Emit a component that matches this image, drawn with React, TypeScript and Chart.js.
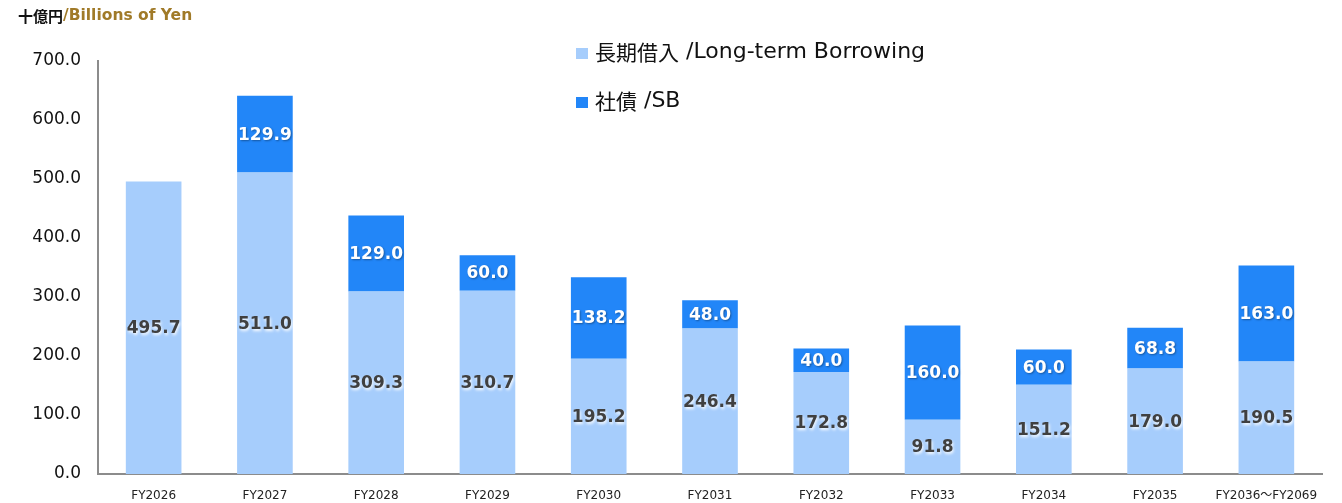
import React, { useEffect, useRef } from "react";
import { Chart, registerables } from "chart.js";

Chart.register(...registerables);

const categories = [
  "FY2026", "FY2027", "FY2028", "FY2029", "FY2030", "FY2031",
  "FY2032", "FY2033", "FY2034", "FY2035", "FY2036〜FY2069",
];
const longTermBorrowing = [495.7, 511.0, 309.3, 310.7, 195.2, 246.4, 172.8, 91.8, 151.2, 179.0, 190.5];
const sb = [null, 129.9, 129.0, 60.0, 138.2, 48.0, 40.0, 160.0, 60.0, 68.8, 163.0];
const yTicks = [0, 100, 200, 300, 400, 500, 600, 700];
const seriesNamesJa = ["長期借入", "社債"];
const seriesNamesEn = [" /Long-term Borrowing", " /SB"];
const unitJa = "十億円";
const unitEn = "/Billions of Yen";

const LIGHT = "#a6cdfc";
const DARK = "#2286f8";
const LABEL_FONT = "bold 17px 'DejaVu Sans', Verdana, sans-serif";

const overlayPlugin = {
  id: "overlay",
  afterDatasetsDraw(chart: any) {
    const ctx = chart.ctx;
    ctx.save();
    ctx.font = LABEL_FONT;
    ctx.textAlign = "center";
    ctx.textBaseline = "middle";
    chart.data.datasets.forEach((ds: any, di: number) => {
      const meta = chart.getDatasetMeta(di);
      meta.data.forEach((bar: any, i: number) => {
        const v = ds.data[i];
        if (v == null) return;
        const { x, y, base } = bar.getProps(["x", "y", "base"], true);
        const cy = (y + base) / 2;
        const txt = v.toFixed(1);
        if (di === 0) {
          ctx.shadowColor = "rgba(255,255,255,0.95)";
          ctx.shadowBlur = 3;
          ctx.shadowOffsetX = 1;
          ctx.shadowOffsetY = 2;
          ctx.fillStyle = "#404040";
        } else {
          ctx.shadowColor = "rgba(0,0,0,0.35)";
          ctx.shadowBlur = 2;
          ctx.shadowOffsetX = 1;
          ctx.shadowOffsetY = 1;
          ctx.fillStyle = "#ffffff";
        }
        ctx.fillText(txt, x, cy + 1);
      });
    });
    ctx.restore();

    // Unit title
    ctx.save();
    ctx.textBaseline = "middle";
    ctx.textAlign = "left";
    ctx.font = "bold 15px 'Noto Sans CJK JP', sans-serif";
    ctx.fillStyle = "#111111";
    ctx.fillText(unitJa, 18, 16);
    const w = ctx.measureText(unitJa).width;
    ctx.font = "bold 15.5px 'DejaVu Sans', Verdana, sans-serif";
    ctx.fillStyle = "#a07a28";
    ctx.fillText(unitEn, 18 + w, 16);

    // Legend
    const colors = [LIGHT, DARK];
    const ys = [52, 101];
    seriesNamesJa.forEach((name, i) => {
      ctx.fillStyle = colors[i];
      ctx.fillRect(576, ys[i] - 4, 12, 11);
      ctx.fillStyle = "#111111";
      ctx.font = "21px 'Noto Sans CJK JP', sans-serif";
      ctx.fillText(name, 595, ys[i]);
      const nw = ctx.measureText(name).width;
      ctx.font = "22px 'DejaVu Sans', sans-serif";
      ctx.fillText(seriesNamesEn[i], 595 + nw, ys[i]);
    });
    ctx.restore();
  },
};

export default function App() {
  const ref = useRef<HTMLCanvasElement>(null);
  useEffect(() => {
    if (!ref.current) return;
    const chart = new Chart(ref.current, {
      type: "bar",
      data: {
        labels: categories,
        datasets: [
          { label: seriesNamesJa[0] + seriesNamesEn[0], data: longTermBorrowing, backgroundColor: LIGHT, borderWidth: 0 },
          { label: seriesNamesJa[1] + seriesNamesEn[1], data: sb as any, backgroundColor: DARK, borderWidth: 0 },
        ],
      },
      options: {
        animation: false,
        responsive: false,
        maintainAspectRatio: false,
        layout: { padding: { top: 61, right: 20, left: 0, bottom: 0 } },
        plugins: { legend: { display: false }, tooltip: { enabled: false } },
        datasets: { bar: { barPercentage: 0.5, categoryPercentage: 1 } },
        scales: {
          x: {
            stacked: true,
            grid: { display: false },
            border: { display: true, color: "#8c8c8c", width: 2 },
            ticks: {
              color: "#222",
              font: { size: 12, family: "'DejaVu Sans', 'Noto Sans CJK JP', sans-serif" },
              padding: 7,
              maxRotation: 0,
              autoSkip: false,
            },
            afterFit: (s: any) => { s.height = 29; },
          },
          y: {
            stacked: true,
            min: 0,
            max: 700,
            grid: { display: false },
            border: { display: true, color: "#8c8c8c", width: 2 },
            afterBuildTicks: (s: any) => { s.ticks = yTicks.map((v) => ({ value: v })); },
            ticks: {
              color: "#111",
              font: { size: 17, family: "'DejaVu Sans', Verdana, sans-serif" },
              padding: 9,
              callback: (v: any) => Number(v).toFixed(1),
            },
            afterFit: (s: any) => { s.width = 98; },
          },
        },
      },
      plugins: [overlayPlugin],
    });
    return () => chart.destroy();
  }, []);
  return (
    <div style={{ position: "fixed", left: 0, top: 0, width: 1342, height: 503, background: "#fff" }}>
      <canvas ref={ref} width={1342} height={503} style={{ display: "block" }} />
    </div>
  );
}
